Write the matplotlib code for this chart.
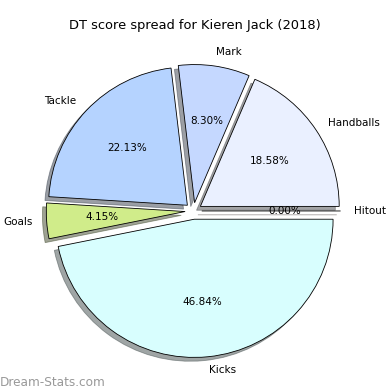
import matplotlib
matplotlib.use("Agg")
import matplotlib.pyplot as plt

labels = ["Hitout", "Handballs", "Mark", "Tackle", "Goals", "Kicks"]
shares = [0.00, 18.58, 8.30, 22.13, 4.15, 46.84]
colors = ["#f0d0d0", "#eaf0ff", "#c5d8ff", "#b5d3ff", "#d0ec8a", "#d8fefe"]

fig = plt.figure(figsize=(3.9, 3.9), dpi=100)
ax = fig.add_axes([0.081, 0.046, 0.83, 0.826])

ax.pie(
    shares,
    labels=labels,
    colors=colors,
    explode=[0.06] * len(shares),
    autopct="%.2f%%",
    startangle=0,
    shadow=True,
    textprops={"fontsize": 7.5},
    wedgeprops={"edgecolor": "black", "linewidth": 0.6},
)
ax.axis("equal")

fig.text(0.5, 0.925, "DT score spread for Kieren Jack (2018)", fontsize=9.4, ha="center")
fig.text(0.0, 0.01, "Dream-Stats.com", fontsize=8.7, color="#999999")

plt.savefig("out.png", dpi=100)
